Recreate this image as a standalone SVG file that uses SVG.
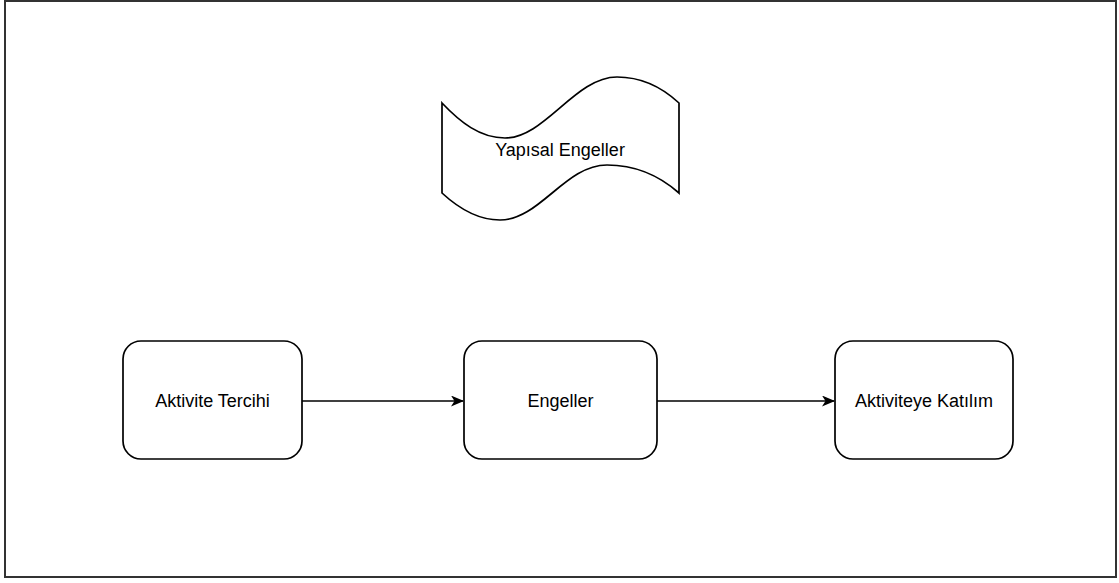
<svg xmlns="http://www.w3.org/2000/svg" width="1119" height="583" viewBox="0 0 1119 583">
<style>
.node{fill:#fff;stroke:#000;stroke-width:1.7}
.lbl{font-family:"Liberation Sans",Arial,sans-serif;font-size:18px;fill:#000;text-anchor:middle;dominant-baseline:central}
.edge{fill:none;stroke:#000;stroke-width:1.7}
</style>
<defs>
<marker id="arr" markerWidth="13" markerHeight="11" refX="12" refY="5.5" orient="auto" markerUnits="userSpaceOnUse">
<path d="M0,0 L13,5.5 L0,11 L3.5,5.5 Z" fill="#000"/>
</marker>
</defs>
<rect x="0" y="0" width="1119" height="583" fill="#fff"/>
<rect x="5" y="1" width="1111" height="576" fill="none" stroke="#333" stroke-width="2"/>
<g id="tape">
<path class="node" d="M442,103 C460,122 480,138 505,138 C545,138 575,77 617,77 C645,77 665,90 679,103 L679,193 C662,178 640,165 607,165 C565,165 540,220 500,220 C475,220 455,205 442,193 Z"/>
<text class="lbl" x="560" y="150">Yapısal Engeller</text>
</g>
<g id="n1">
<rect class="node" x="123" y="341" width="179" height="118" rx="18" ry="18"/>
<text class="lbl" x="212.5" y="401">Aktivite Tercihi</text>
</g>
<g id="n2">
<rect class="node" x="464" y="341" width="193" height="118" rx="18" ry="18"/>
<text class="lbl" x="560.5" y="401">Engeller</text>
</g>
<g id="n3">
<rect class="node" x="835" y="341" width="178" height="118" rx="18" ry="18"/>
<text class="lbl" x="924" y="401">Aktiviteye Katılım</text>
</g>
<g id="edges">
<line class="edge" x1="302" y1="401" x2="463" y2="401" marker-end="url(#arr)"/>
<line class="edge" x1="657" y1="401" x2="834" y2="401" marker-end="url(#arr)"/>
</g>
</svg>
